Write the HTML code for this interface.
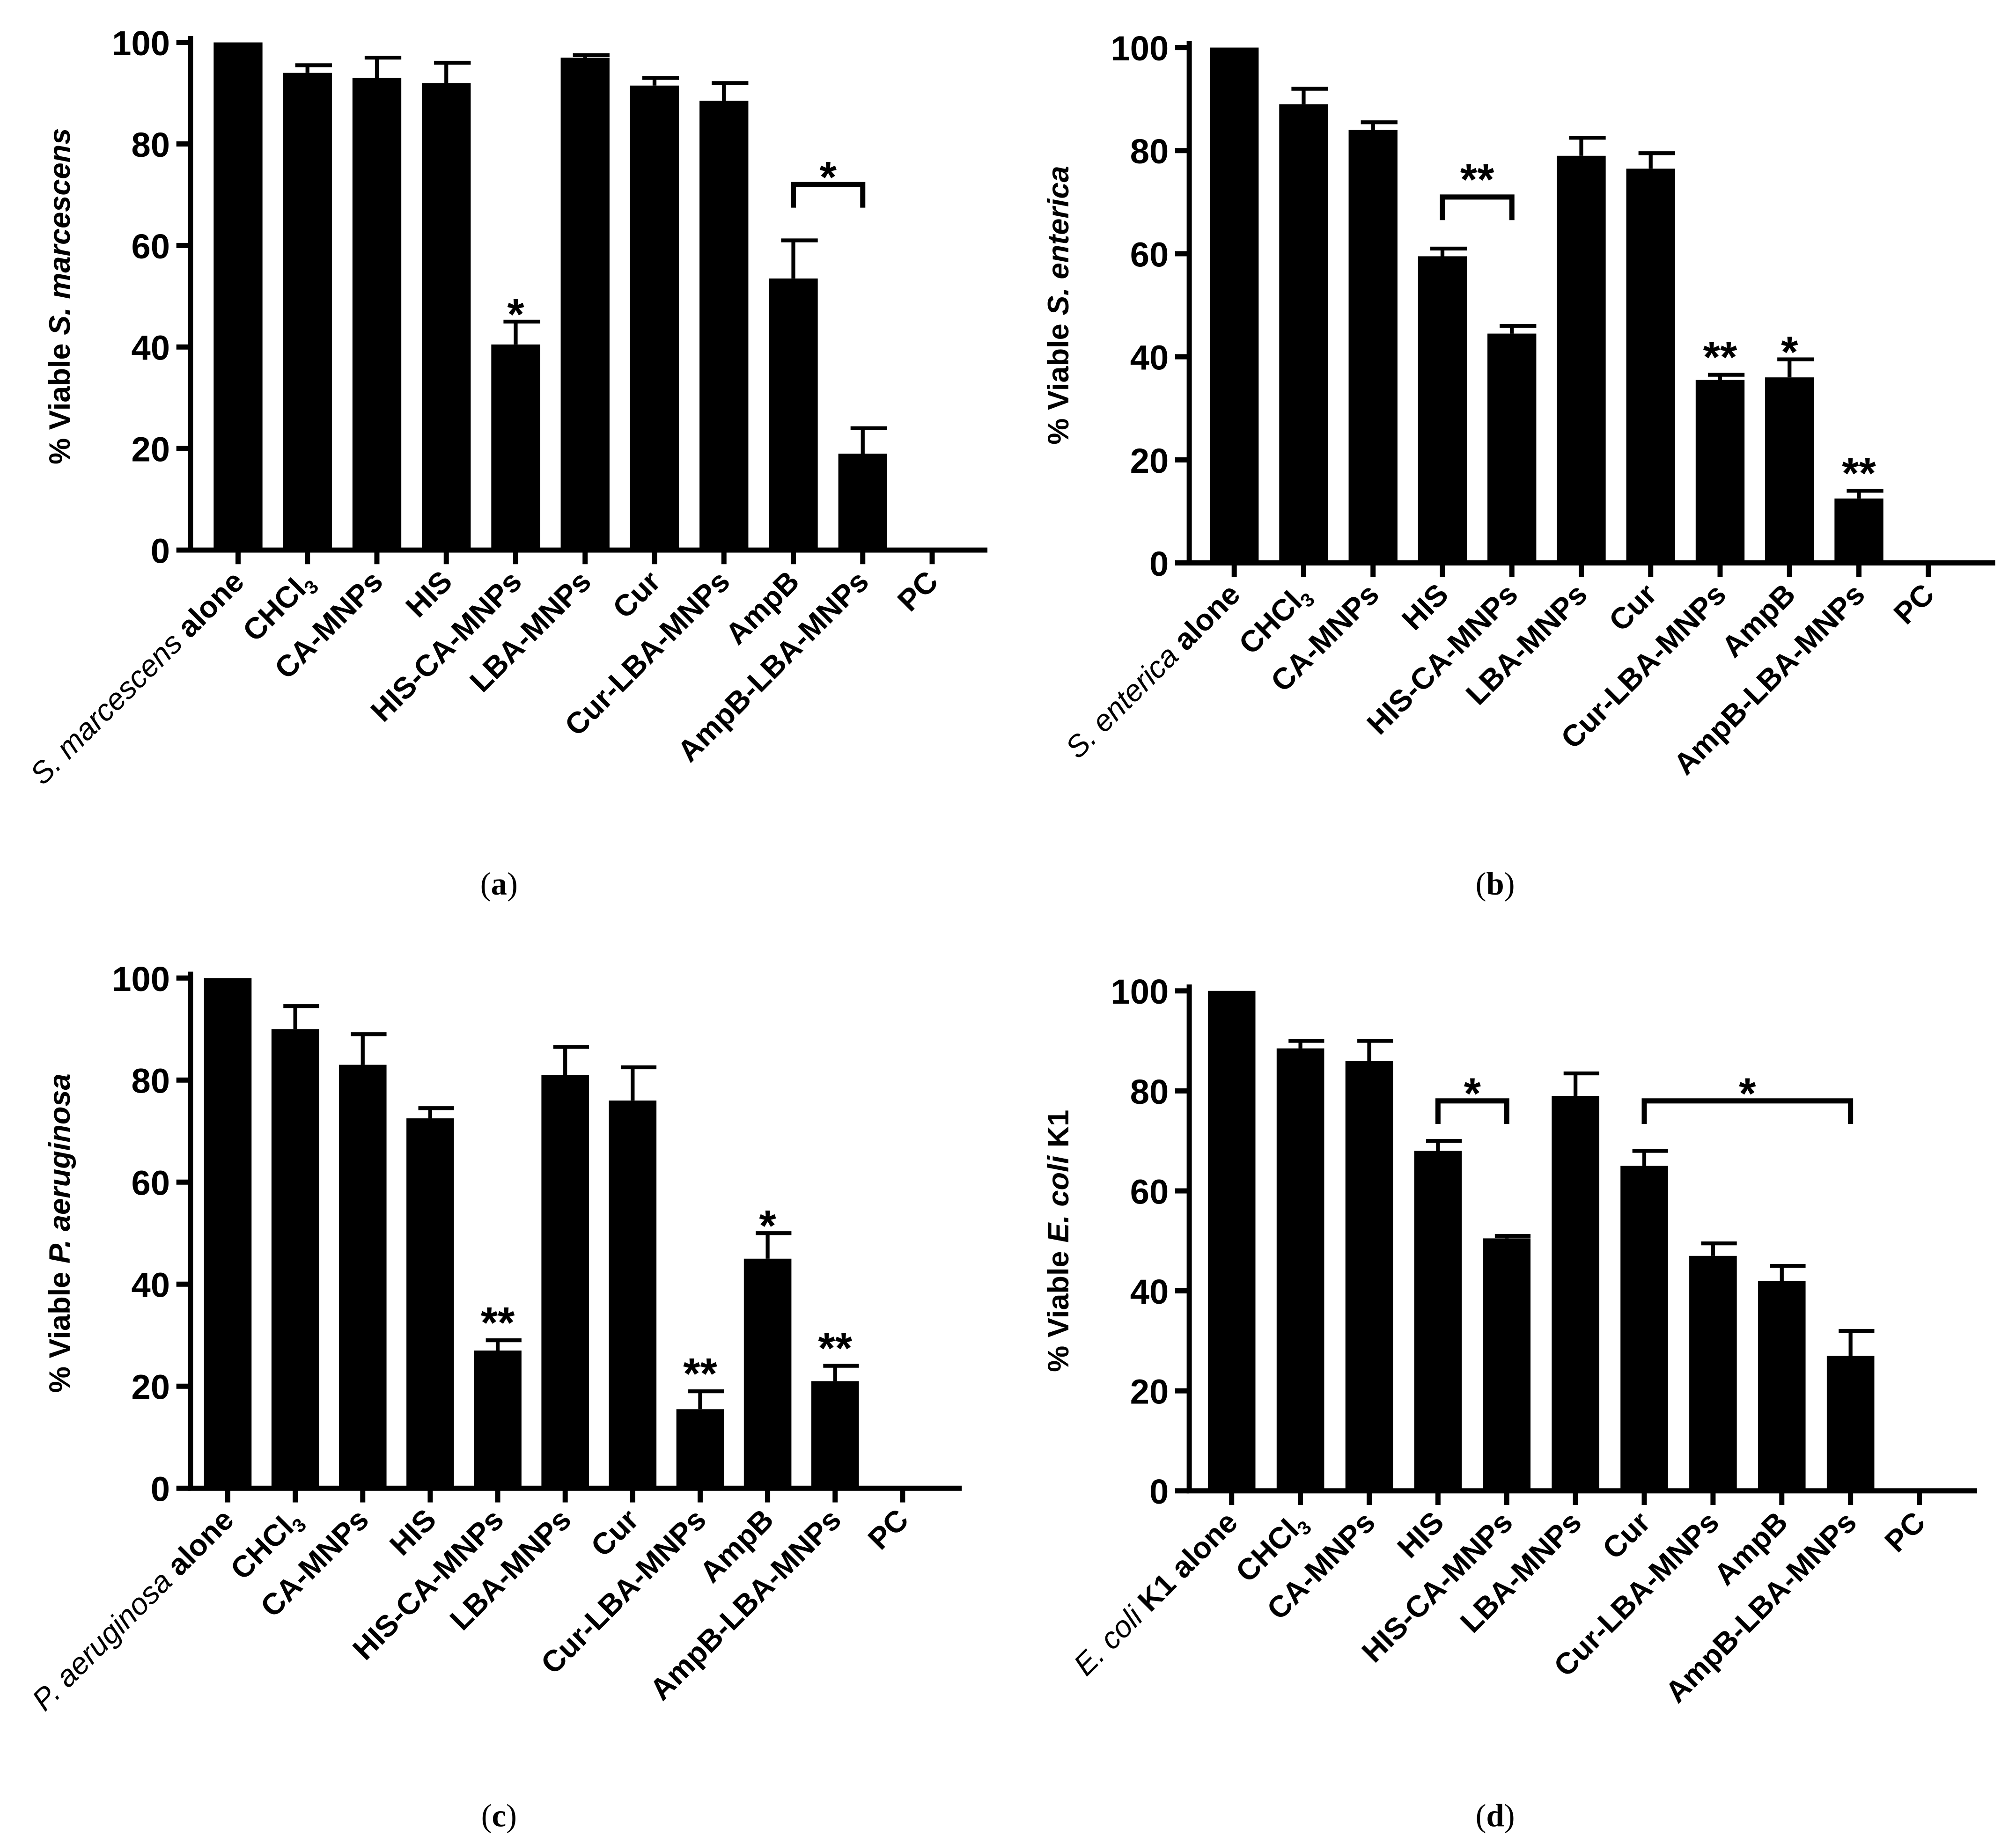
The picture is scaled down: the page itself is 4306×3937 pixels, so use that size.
<!DOCTYPE html>
<html><head><meta charset="utf-8">
<style>html,body{margin:0;padding:0;background:#fff}svg{display:block}</style>
</head><body>
<svg id="fig" width="4306" height="3937" viewBox="0 0 1568 1434" xmlns="http://www.w3.org/2000/svg" font-family="Liberation Sans, Arial, sans-serif"></svg>
<script>
const catsA = [["i","S. marcescens"," alone"],"CHCl3","CA-MNPs","HIS","HIS-CA-MNPs","LBA-MNPs","Cur","Cur-LBA-MNPs","AmpB","AmpB-LBA-MNPs","PC"];
const catsB = [["i","S. enterica"," alone"],"CHCl3","CA-MNPs","HIS","HIS-CA-MNPs","LBA-MNPs","Cur","Cur-LBA-MNPs","AmpB","AmpB-LBA-MNPs","PC"];
const catsC = [["i","P. aeruginosa"," alone"],"CHCl3","CA-MNPs","HIS","HIS-CA-MNPs","LBA-MNPs","Cur","Cur-LBA-MNPs","AmpB","AmpB-LBA-MNPs","PC"];
const catsD = [["i","E. coli"," K1 alone"],"CHCl3","CA-MNPs","HIS","HIS-CA-MNPs","LBA-MNPs","Cur","Cur-LBA-MNPs","AmpB","AmpB-LBA-MNPs","PC"];
const valsA = [100,94,93,92,40.5,97,91.5,88.5,53.5,19,0];
const errsA = [0,1.5,4,4,4.5,0.5,1.5,3.5,7.5,5,0];
const valsB = [100,89,84,59.5,44.5,79,76.5,35.5,36,12.5,0];
const errsB = [0,3,1.5,1.5,1.5,3.5,3,1,3.5,1.5,0];
const valsC = [100,90,83,72.5,27,81,76,15.5,45,21,0];
const errsC = [0,4.5,6,2,2,5.5,6.5,3.5,5,3,0];
const valsD = [100,88.5,86,68,50.5,79,65,47,42,27,0];
const errsD = [0,1.5,4,2,0.5,4.5,3,2.5,3,5,0];
const starsA = [[4,"*"]];
const starsB = [[7,"**"],[8,"*"],[9,"**"]];
const starsC = [[4,"**"],[7,"**"],[8,"*"],[9,"**"]];
const starsD = [];
const bracketsA = [[8,9,72,"*"]];
const bracketsB = [[3,4,71,"**"]];
const bracketsC = [];
const bracketsD = [[3,4,78,"*"],[6,9,78,"*"]];
const yTicks = [0,20,40,60,80,100];

const NS="http://www.w3.org/2000/svg";
const fig=document.getElementById('fig');
function mk(tag,attrs,parent){const e=document.createElementNS(NS,tag);for(const k in attrs)e.setAttribute(k,attrs[k]);(parent||fig).appendChild(e);return e;}

function panel(p){
  const g=mk('g',{});
  
  
  const y=v=>p.y0-(p.y0-p.y100)*v/100;
  const x=i=>p.x1+i*p.step;
  p.vals.forEach((v,i)=>{
    const cx=x(i);
    if(v>0){
      const r=mk('rect',{x:cx-p.bw/2,y:y(v),width:p.bw,height:p.y0-y(v),fill:'#000'},g);
      
      
    }
    const e=p.errs[i];
    if(e>0){
      const eb=mk('path',{d:`M${cx},${y(v)} V${y(v+e)} M${cx-p.bw/4},${y(v+e)} H${cx+p.bw/2}`,stroke:'#000','stroke-width':3,fill:'none'},g);
      
      
    }
  });
  const ax=mk('path',{d:`M${p.ax},${y(100)-5} V${p.y0} H${p.xEnd}`,stroke:'#000','stroke-width':4,fill:'none'},g);
  
  
  yTicks.forEach(t=>{
    mk('line',{x1:p.ax-11,x2:p.ax,y1:y(t),y2:y(t),stroke:'#000','stroke-width':4},g);
    const tx=mk('text',{x:p.ax-16,y:y(t)+10,'text-anchor':'end','font-size':27,'font-weight':'bold'},g);
    tx.textContent=t;
    
    
  });
  p.cats.forEach((c,i)=>{
    const cx=x(i);
    mk('line',{x1:cx,x2:cx,y1:p.y0,y2:p.y0+11,stroke:'#000','stroke-width':4},g);
    const tx=mk('text',{transform:`translate(${cx+6},${p.y0+26}) rotate(-45)`,'text-anchor':'end','font-size':23.5,'font-weight':'bold'},g);
    
    
    if(Array.isArray(c)){
      const a=mk('tspan',{'font-style':'italic','font-weight':'normal'},tx);a.textContent=c[1];
      const b=mk('tspan',{},tx);b.textContent=c[2];
    } else if(c==="CHCl3"){
      const a=mk('tspan',{},tx);a.textContent="CHCl";
      const b=mk('tspan',{'font-size':15,dy:5},tx);b.textContent="3";
    } else tx.textContent=c;
  });
  const yt=mk('text',{transform:`translate(${p.ax-94},${(p.y0+y(100))/2}) rotate(-90)`,'text-anchor':'middle','font-size':23,'font-weight':'bold'},g);
  
  
  const t1=mk('tspan',{},yt);t1.textContent="% Viable ";
  const t2=mk('tspan',{'font-style':'italic'},yt);t2.textContent=p.title[0];
  if(p.title[1]){const t3=mk('tspan',{},yt);t3.textContent=p.title[1];}
  p.stars.forEach(([i,s])=>{
    const v=p.vals[i]+p.errs[i];
    const st=mk('text',{x:x(i),y:y(v)-6+(s.length>1?4:12),'text-anchor':'middle','font-size':34,'font-weight':'bold'},g);
    st.textContent=s;
    
    
  });
  p.brackets.forEach(([a,b,v,s])=>{
    const br=mk('path',{d:`M${x(a)},${y(v)+18} V${y(v)} H${x(b)} V${y(v)+18}`,stroke:'#000','stroke-width':4,fill:'none'},g);
    
    
    const st=mk('text',{x:(x(a)+x(b))/2,y:y(v)-6+(s.length>1?4:12),'text-anchor':'middle','font-size':34,'font-weight':'bold'},g);
    st.textContent=s;
    
    
  });
  const cap=mk('text',{x:p.capX,y:p.capY,'text-anchor':'middle','font-size':25,'font-family':'Liberation Serif, serif'},g);
  
  
  const c1=mk('tspan',{},cap);c1.textContent="(";
  const c2=mk('tspan',{'font-weight':'bold'},cap);c2.textContent=p.cap;
  const c3=mk('tspan',{},cap);c3.textContent=")";
}

panel({name:'panel-a',cats:catsA,vals:valsA,errs:errsA,stars:starsA,brackets:bracketsA,ax:148,xEnd:768,y0:428,y100:33,x1:185,step:54,bw:38,title:["S. marcescens",""],cap:"a",capX:388,capY:696});
panel({name:'panel-b',cats:catsB,vals:valsB,errs:errsB,stars:starsB,brackets:bracketsB,ax:925,xEnd:1552,y0:438,y100:37,x1:960,step:54,bw:38,title:["S. enterica",""],cap:"b",capX:1163,capY:696});
panel({name:'panel-c',cats:catsC,vals:valsC,errs:errsC,stars:starsC,brackets:bracketsC,ax:148,xEnd:748,y0:1158,y100:761,x1:177,step:52.5,bw:37,title:["P. aeruginosa",""],cap:"c",capX:388,capY:1421});
panel({name:'panel-d',cats:catsD,vals:valsD,errs:errsD,stars:starsD,brackets:bracketsD,ax:925,xEnd:1538,y0:1160,y100:771,x1:958,step:53.5,bw:37,title:["E. coli"," K1"],cap:"d",capX:1163,capY:1421});
</script>
</body></html>
